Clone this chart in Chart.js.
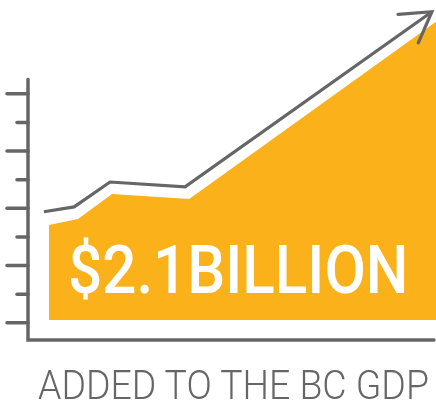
<!DOCTYPE html>
<html>
<head>
<meta charset="utf-8">
<script src="https://cdn.jsdelivr.net/npm/chart.js@4"></script>
<style>
  body { margin: 0; background: #fff; }
  #wrap { position: relative; width: 436px; height: 402px; overflow: hidden; }
  #chart { position: absolute; left: 0; top: 0; }
  .label {
    position: absolute;
    white-space: nowrap;
    line-height: 1;
    font-family: 'Roboto', sans-serif;
    transform-origin: left top;
  }
  #big { left: 68px; top: 238px; font-size: 66px; font-weight: 500; color: #fff; }
  #caption { left: 38px; top: 366px; font-size: 40px; font-weight: 300; color: #666; }
</style>
</head>
<body>
<div id="wrap">
  <canvas id="chart" width="436" height="402"></canvas>
  <span class="label" id="big">$2.1BILLION</span>
  <span class="label" id="caption">ADDED TO THE BC GDP</span>
</div>
<script>
// values (x in % of plot width, y in tick units)
const areaX = [5.15, 12.25, 20.6, 39.5, 100];
const areaY = [3.42, 3.63, 4.50, 4.33, 10.52];
const trendX = [3.9, 11.3, 20.1, 38.5, 99.0];
const trendY = [3.88, 4.05, 4.92, 4.75, 10.87];
const tickValues = [0, 1, 2, 3, 4, 5, 6, 7, 8];
const axisTop = 8.5;
const areaBase = 0.1;

const ORANGE = '#fbb11a';
const GREY = '#666666';

// Hand-drawn looking axes, alternating tick lengths and the arrow head
const axesPlugin = {
    id: 'axesAndArrow',
    afterDatasetsDraw(chart) {
        const { ctx, chartArea, scales } = chart;
        const y = scales.y;
        const left = chartArea.left;
        const bottom = chartArea.bottom;

        ctx.save();
        ctx.strokeStyle = GREY;
        ctx.lineWidth = 3.5;
        ctx.lineCap = 'round';
        ctx.lineJoin = 'miter';

        // axis lines
        ctx.beginPath();
        ctx.moveTo(left, y.getPixelForValue(axisTop));
        ctx.lineTo(left, bottom);
        ctx.lineTo(chartArea.right - 2, bottom);
        ctx.stroke();

        // ticks, long and short in turn
        tickValues.forEach((v, i) => {
            const py = y.getPixelForValue(v);
            const len = i % 2 === 0 ? 21 : 11;
            ctx.beginPath();
            ctx.moveTo(left - len, py);
            ctx.lineTo(left, py);
            ctx.stroke();
        });

        // arrow head on the end of the trend line
        const pts = chart.getDatasetMeta(1).data;
        const tip = pts[pts.length - 1];
        const prev = pts[pts.length - 2];
        const back = Math.atan2(prev.y - tip.y, prev.x - tip.x);
        const spread = 31 * Math.PI / 180;
        const armLen = 34;
        ctx.lineWidth = 3.2;
        ctx.beginPath();
        ctx.moveTo(tip.x + armLen * Math.cos(back + spread), tip.y + armLen * Math.sin(back + spread));
        ctx.lineTo(tip.x, tip.y);
        ctx.lineTo(tip.x + armLen * Math.cos(back - spread), tip.y + armLen * Math.sin(back - spread));
        ctx.stroke();
        ctx.restore();
    }
};

const ctx = document.getElementById('chart').getContext('2d');
new Chart(ctx, {
    type: 'line',
    data: {
        datasets: [{
            data: areaX.map((x, i) => ({ x: x, y: areaY[i] })),
            backgroundColor: ORANGE,
            borderWidth: 0,
            pointRadius: 0,
            fill: { value: areaBase },
            tension: 0,
            clip: false
        }, {
            data: trendX.map((x, i) => ({ x: x, y: trendY[i] })),
            borderColor: GREY,
            borderWidth: 3.2,
            borderJoinStyle: 'miter',
            pointRadius: 0,
            fill: false,
            tension: 0,
            clip: false
        }]
    },
    options: {
        responsive: false,
        animation: false,
        layout: { padding: { left: 28, right: 0, top: 8, bottom: 62 } },
        plugins: {
            legend: { display: false },
            tooltip: { enabled: false }
        },
        scales: {
            x: { type: 'linear', display: false, min: 0, max: 100 },
            y: { display: false, min: -0.6, max: 11 }
        }
    },
    plugins: [axesPlugin]
});

// squeeze the labels to the widths seen in the picture
function fitWidth(id, width) {
    const el = document.getElementById(id);
    el.style.display = 'inline-block';
    el.style.transform = `scaleX(${width / el.offsetWidth})`;
}
fitWidth('big', 341);
fitWidth('caption', 391);
</script>
</body>
</html>
